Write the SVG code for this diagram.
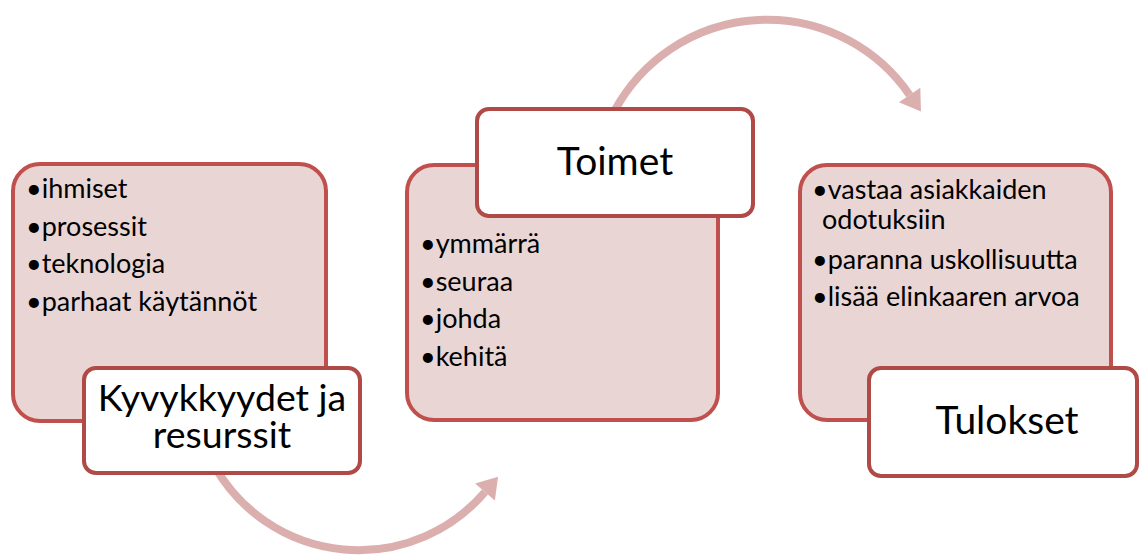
<svg xmlns="http://www.w3.org/2000/svg" width="1140" height="555" viewBox="0 0 1140 555">
<defs>
<marker id="ah" markerUnits="userSpaceOnUse" markerWidth="24" markerHeight="26" refX="0" refY="11" orient="auto" viewBox="0 0 18 22">
<path d="M0,0 L17,11 L0,22 Z" fill="#DCAFAF"/>
</marker>
<style>
.arc{fill:none;stroke:#DCAFAF;stroke-width:8}
.card{fill:#EAD5D5;stroke:#C0504D;stroke-width:4}
.lab{fill:#FFFFFF;stroke:#B04A47;stroke-width:4}
.bt{font-family:Lato,"Liberation Sans",sans-serif;font-size:27px;fill:#000}
.tt{font-family:Lato,"Liberation Sans",sans-serif;fill:#000;text-anchor:middle}
</style>
</defs>
<rect width="1140" height="555" fill="#FFFFFF"/>
<g id="connectors">
<path class="arc" d="M215,467 A166,166 0 0 0 485,492" marker-end="url(#ah)"/>
<path class="arc" d="M615,110 A173,173 0 0 1 909.6,95" marker-end="url(#ah)"/>
</g>
<g id="node-kyvykkyydet">
<rect class="card" x="13" y="164" width="313" height="257" rx="27"/>
<text class="bt" x="26" y="198">•ihmiset</text>
<text class="bt" x="26" y="236">•prosessit</text>
<text class="bt" x="26" y="273">•teknologia</text>
<text class="bt" x="26" y="311">•parhaat käytännöt</text>
<rect class="lab" x="84" y="368" width="276" height="105" rx="12"/>
<text class="tt" font-size="37.5"><tspan x="222" y="411">Kyvykkyydet ja</tspan><tspan x="222" y="448">resurssit</tspan></text>
</g>
<g id="node-toimet">
<rect class="card" x="407" y="165" width="311" height="255" rx="27"/>
<text class="bt" x="420" y="253">•ymmärrä</text>
<text class="bt" x="420" y="291">•seuraa</text>
<text class="bt" x="420" y="328">•johda</text>
<text class="bt" x="420" y="366">•kehitä</text>
<rect class="lab" x="477" y="109" width="276" height="107" rx="12"/>
<text class="tt" x="615" y="175" font-size="39">Toimet</text>
</g>
<g id="node-tulokset">
<rect class="card" x="800" y="165" width="311" height="255" rx="27"/>
<text class="bt" x="812" y="199">•vastaa asiakkaiden</text>
<text class="bt" x="822" y="229">odotuksiin</text>
<text class="bt" x="812" y="269">•paranna uskollisuutta</text>
<text class="bt" x="812" y="306">•lisää elinkaaren arvoa</text>
<rect class="lab" x="869" y="368" width="268" height="108" rx="12"/>
<text class="tt" x="1007" y="434" font-size="39">Tulokset</text>
</g>
</svg>
